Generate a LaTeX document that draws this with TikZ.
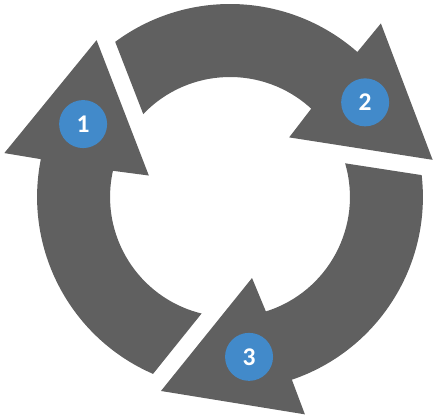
\documentclass[tikz,border=0pt]{standalone}
\usepackage{fontspec}
\setmainfont{Carlito}
\usepackage{tikz}
\usetikzlibrary{positioning, calc}
\definecolor{gris}{RGB}{96,96,96}
\definecolor{azul}{RGB}{66,138,202}
\tikzset{
  flechabloque/.style={fill=gris, draw=none},
  paso/.style={circle, fill=azul, draw=none, inner sep=0pt, minimum size=0.96cm,
               text=white, font=\fontsize{14.5}{16}\selectfont\bfseries}
}
\begin{document}
\begin{tikzpicture}[scale=0.02]
  \useasboundingbox (-230,-222) rectangle (208,197);
  % three block arrows round the ring, one every 120 degrees
  \foreach \giro/\num in {0/2, 120/1, 240/3} {
    \begin{scope}[rotate=\giro]
      \fill[flechabloque] (126.5:193) arc[start angle=126.5, end angle=48.7, radius=193]
        -- (49:230) -- (10.4:206) -- (45.2:84) -- (47.4:120)
        arc[start angle=47.4, end angle=136.3, radius=120] -- cycle;
    \end{scope}
  }
  \node[paso] (n2) at (35:165)    {2};
  \node[paso] (n1) at (153.6:164) {1};
  \node[paso] (n3) at (276.8:161) {3};
\end{tikzpicture}
\end{document}
